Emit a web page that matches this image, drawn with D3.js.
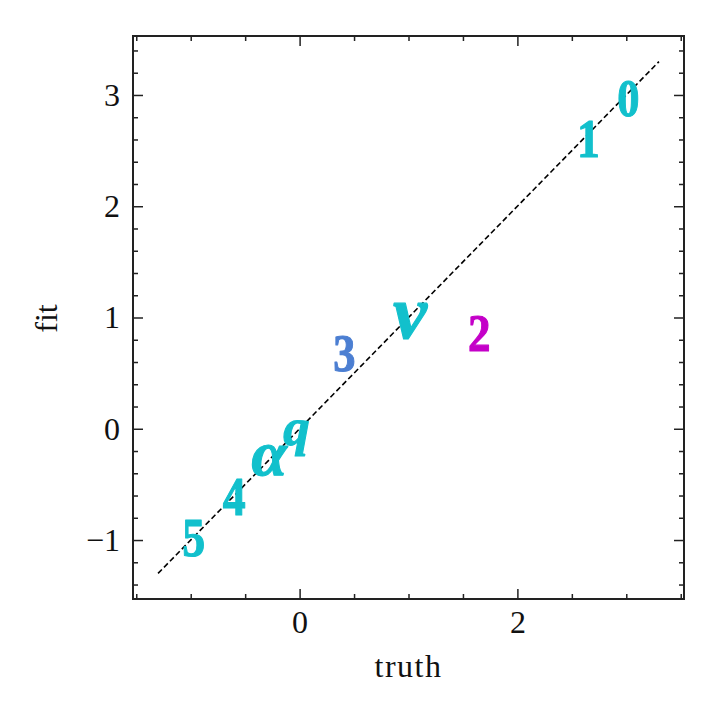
<!DOCTYPE html>
<html>
<head>
<meta charset="utf-8">
<script src="https://cdn.jsdelivr.net/npm/d3@7"></script>
<style>
  html, body { margin: 0; padding: 0; background: #fff; }
  svg { display: block; }
</style>
</head>
<body>
<svg id="chart" width="720" height="720"></svg>
<script>
// ---- data ----
const labels  = ["0", "1", "2", "3", "\u03BD", "q", "\u03B1", "4", "5"];
const truth   = [3.02, 2.66, 1.65, 0.41, 1.02, -0.03, -0.27, -0.60, -0.97];
const fit     = [2.96, 2.60, 0.86, 0.67, 0.97, -0.08, -0.28, -0.62, -0.99];
const colors  = ["#12c0cc", "#12c0cc", "#c400c8", "#4c7fd2", "#12c0cc", "#12c0cc", "#12c0cc", "#12c0cc", "#12c0cc"];
const italic  = [false, false, false, false, true, true, true, false, false];
const diagLine = [-1.3, 3.3];
const xMajor = [0, 2];
const xMinor = [-1.5, -1, -0.5, 0.5, 1, 1.5, 2.5, 3, 3.5];
const yMajor = [-1, 0, 1, 2, 3];
const yMinor = [-1.4, -1.2, -0.8, -0.6, -0.4, -0.2, 0.2, 0.4, 0.6, 0.8, 1.2, 1.4, 1.6, 1.8, 2.2, 2.4, 2.6, 2.8, 3.2, 3.4];
const domain = [-1.53, 3.53];

// ---- layout ----
const L = 133, R = 684, T = 36, B = 599;
const svg = d3.select("#chart");
const x = d3.scaleLinear().domain(domain).range([L, R]);
const y = d3.scaleLinear().domain(domain).range([B, T]);
const fontFam = "'Liberation Serif', 'Times New Roman', serif";
const fmt = d => d3.format("d")(d);

function styleAxis(g, showText) {
  g.select(".domain").remove();
  g.selectAll(".tick line").attr("stroke", "#222").attr("stroke-width", 1.5);
  g.selectAll(".tick text").attr("font-family", fontFam).attr("font-size", 32).attr("fill", "#111");
  if (!showText) g.selectAll(".tick text").remove();
}

// bottom
svg.append("g").attr("transform", `translate(0,${B})`)
  .call(d3.axisBottom(x).tickValues(xMajor).tickSizeInner(-10).tickSizeOuter(0).tickPadding(11).tickFormat(fmt))
  .call(g => styleAxis(g, true));
svg.append("g").attr("transform", `translate(0,${B})`)
  .call(d3.axisBottom(x).tickValues(xMinor).tickSizeInner(-5).tickSizeOuter(0))
  .call(g => styleAxis(g, false));
// top
svg.append("g").attr("transform", `translate(0,${T})`)
  .call(d3.axisTop(x).tickValues(xMajor).tickSizeInner(-10).tickSizeOuter(0))
  .call(g => styleAxis(g, false));
svg.append("g").attr("transform", `translate(0,${T})`)
  .call(d3.axisTop(x).tickValues(xMinor).tickSizeInner(-5).tickSizeOuter(0))
  .call(g => styleAxis(g, false));
// left
svg.append("g").attr("transform", `translate(${L},0)`)
  .call(d3.axisLeft(y).tickValues(yMajor).tickSizeInner(-10).tickSizeOuter(0).tickPadding(13).tickFormat(fmt))
  .call(g => styleAxis(g, true));
svg.append("g").attr("transform", `translate(${L},0)`)
  .call(d3.axisLeft(y).tickValues(yMinor).tickSizeInner(-5).tickSizeOuter(0))
  .call(g => styleAxis(g, false));
// right
svg.append("g").attr("transform", `translate(${R},0)`)
  .call(d3.axisRight(y).tickValues(yMajor).tickSizeInner(-10).tickSizeOuter(0))
  .call(g => styleAxis(g, false));
svg.append("g").attr("transform", `translate(${R},0)`)
  .call(d3.axisRight(y).tickValues(yMinor).tickSizeInner(-5).tickSizeOuter(0))
  .call(g => styleAxis(g, false));

// frame
svg.append("rect").attr("x", L).attr("y", T).attr("width", R - L).attr("height", B - T)
  .attr("fill", "none").attr("stroke", "#222").attr("stroke-width", 2);

// diagonal dashed line
svg.append("line")
  .attr("x1", x(diagLine[0])).attr("y1", y(diagLine[0]))
  .attr("x2", x(diagLine[1])).attr("y2", y(diagLine[1]))
  .attr("stroke", "#000").attr("stroke-width", 1.6).attr("stroke-dasharray", "5.5,3");

// text markers, scaled so the glyph's largest dimension fits the marker size
const markerSize = 36;
const ctx = document.createElement("canvas").getContext("2d");
const pts = labels.map((l, i) => ({ l, tx: truth[i], fy: fit[i], c: colors[i], it: italic[i] }));
const mg = svg.append("g");
pts.forEach(p => {
  const style = (p.it ? "italic " : "") + "bold";
  ctx.font = `${style} 100px 'Liberation Serif'`;
  const m = ctx.measureText(p.l);
  const sx = p.it ? 1 : 0.84; // narrower digits like the reference
  const w = (m.actualBoundingBoxLeft + m.actualBoundingBoxRight) * sx;
  const h = m.actualBoundingBoxAscent + m.actualBoundingBoxDescent;
  const s = markerSize / Math.max(w, h);
  const gx = -m.actualBoundingBoxLeft + (m.actualBoundingBoxLeft + m.actualBoundingBoxRight) / 2;
  const gy = (-m.actualBoundingBoxAscent + m.actualBoundingBoxDescent) / 2;
  mg.append("text")
    .attr("font-family", fontFam)
    .attr("font-weight", "bold")
    .attr("font-style", p.it ? "italic" : "normal")
    .attr("font-size", 100)
    .attr("fill", p.c)
    .attr("stroke", p.c)
    .attr("stroke-width", 1.1 / s)
    .attr("stroke-linejoin", "round")
    .attr("transform", `translate(${x(p.tx)},${y(p.fy)}) scale(${s * sx},${s}) translate(${-gx},${-gy})`)
    .text(p.l);
});

// axis labels
svg.append("text").attr("x", (L + R) / 2).attr("y", 677)
  .attr("text-anchor", "middle").attr("font-family", fontFam).attr("font-size", 32).attr("fill", "#111")
  .attr("letter-spacing", 1.5)
  .text("truth");
svg.append("text").attr("transform", `translate(57,${(T + B) / 2 + 1}) rotate(-90)`)
  .attr("text-anchor", "middle").attr("font-family", fontFam).attr("font-size", 32).attr("fill", "#111")
  .text("fit");
</script>
</body>
</html>
